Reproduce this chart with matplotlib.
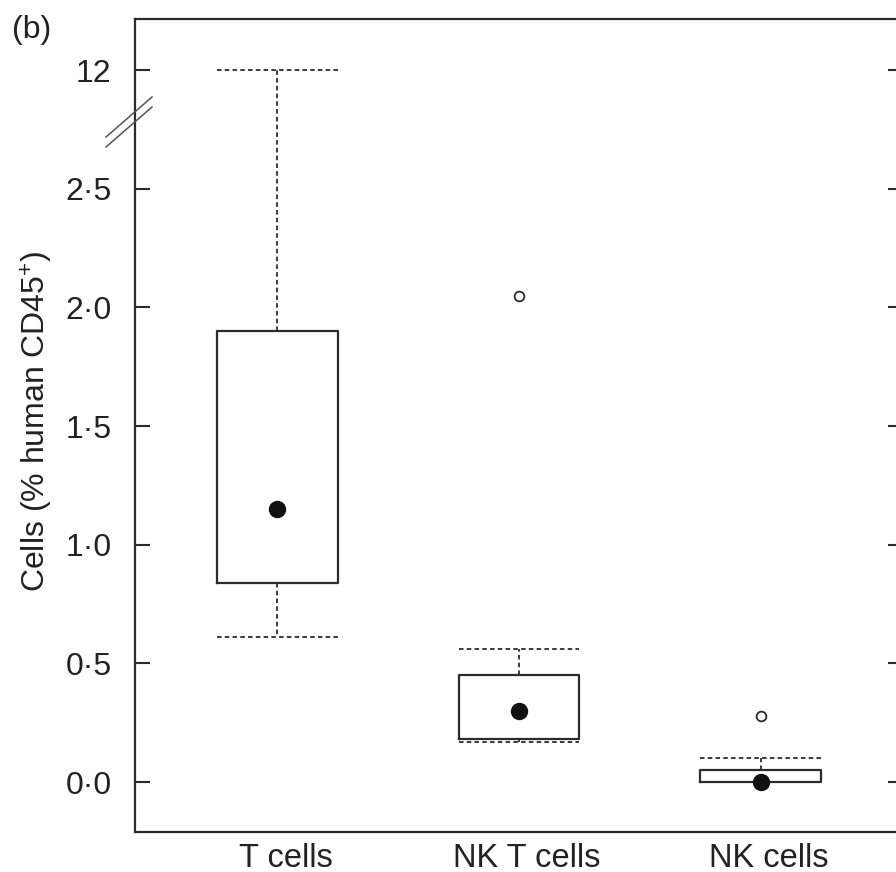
import matplotlib
matplotlib.use("Agg")
import matplotlib.pyplot as plt
import matplotlib.transforms as mtransforms
from matplotlib.lines import Line2D

plt.rcParams['font.family'] = ['Liberation Sans', 'DejaVu Sans']
plt.rcParams['mathtext.fontset'] = 'custom'
plt.rcParams['mathtext.rm'] = 'Liberation Sans'
plt.rcParams['mathtext.it'] = 'Liberation Sans'

# ---- data ----
categories = ["T cells", "NK T cells", "NK cells"]
whisker_lo = [0.61, 0.17, 0.00]
box_q1 = [0.84, 0.18, 0.00]
medians = [1.15, 0.30, 0.00]
box_q3 = [1.90, 0.45, 0.05]
whisker_hi = [12.0, 0.56, 0.10]
outliers = [[], [2.05], [0.28]]
tick_values = [0.0, 0.5, 1.0, 1.5, 2.0, 2.5, 12.0]
tick_labels = ["0·0", "0·5", "1·0", "1·5", "2·0", "2·5", "12"]

# axis break: values above 2.5 are drawn at the broken segment (12 -> 3.0)
BREAK_FROM, BREAK_TO = 12.0, 3.0


def ymap(v):
    return v - BREAK_FROM + BREAK_TO if v >= BREAK_FROM else v


dark = '#2b2b2b'
fig = plt.figure(figsize=(8.96, 8.72), dpi=100)
W, H = 896, 872
ax = fig.add_axes([135 / W, (H - 832) / H, (903 - 135) / W, (832 - 19) / H])

stats = []
for i, c in enumerate(categories):
    stats.append(dict(label=c, whislo=ymap(whisker_lo[i]), q1=ymap(box_q1[i]),
                      med=ymap(medians[i]), q3=ymap(box_q3[i]),
                      whishi=ymap(whisker_hi[i]),
                      fliers=[ymap(v) for v in outliers[i]]))

positions = list(range(1, len(categories) + 1))
ax.bxp(stats, positions=positions, widths=0.5, capwidths=0.5,
       boxprops=dict(color=dark, linewidth=1.6),
       whiskerprops=dict(color=dark, linewidth=1.3, linestyle=(0, (2.5, 1.8))),
       capprops=dict(color=dark, linewidth=1.3, linestyle=(0, (2.5, 1.8))),
       medianprops=dict(linewidth=0),
       flierprops=dict(marker='o', markerfacecolor='white', markeredgecolor=dark,
                       markersize=7, markeredgewidth=1.3),
       showfliers=True)
ax.plot(positions, [ymap(m) for m in medians], 'o', color='#111111',
        markersize=11.5, zorder=5, linestyle='none')

ax.set_xlim(0.41, 3.59)
ax.set_ylim(-0.21, 3.215)
ax.set_yticks([ymap(v) for v in tick_values])
ax.set_yticklabels(tick_labels)
ax.set_xticks(positions)
ax.set_xticklabels(categories)

ax.tick_params(axis='y', direction='in', length=11, width=1.5, color=dark,
               labelsize=23, pad=17, labelcolor='#222222', right=True)
ax.tick_params(axis='x', length=0, labelsize=23.5, pad=8, labelcolor='#222222')
shift = mtransforms.ScaledTranslation(8 / 100, 0, fig.dpi_scale_trans)
for lab in ax.get_xticklabels():
    lab.set_transform(lab.get_transform() + shift)
for s in ax.spines.values():
    s.set_color(dark)
    s.set_linewidth(1.6)

ax.set_ylabel(r'Cells (% human CD45$^{+}$)', fontsize=23, color='#222222')
ax.yaxis.set_label_coords(-0.104, 0.505)

# break marks on the left spine
for dy in (0, 10):
    fig.add_artist(Line2D([106 / W, 152 / W], [(H - 137 - dy) / H, (H - 97 - dy) / H],
                          transform=fig.transFigure, color='#555555', linewidth=1.1))

fig.text(12 / W, (H - 30) / H, "(b)", fontsize=23, color='#222222', va='center', ha='left')

fig.savefig("out.png", dpi=100)
